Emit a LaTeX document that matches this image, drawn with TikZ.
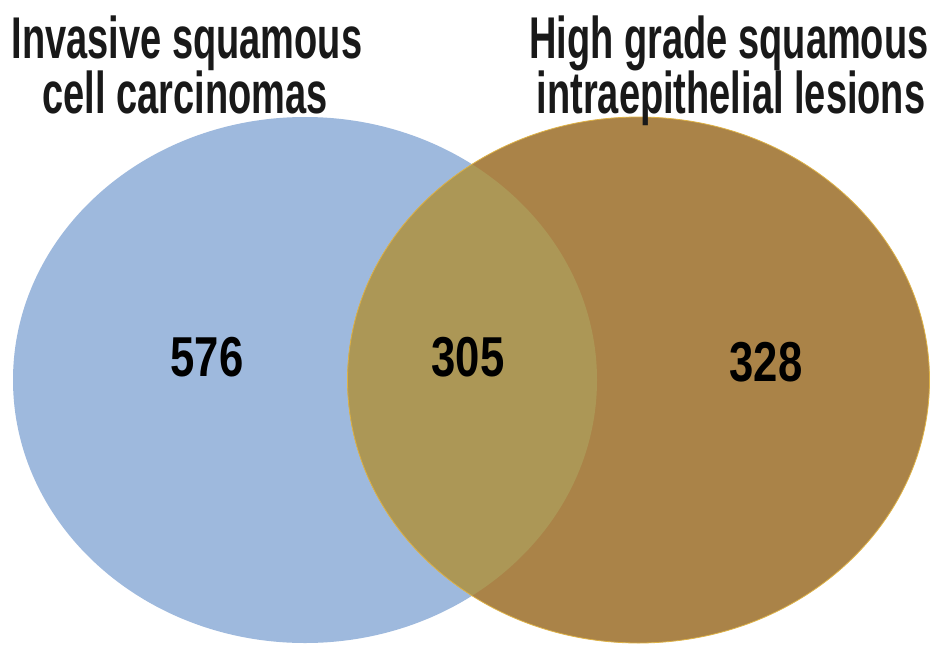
\documentclass[tikz,border=0pt]{standalone}
\usepackage{fontspec}
\setmainfont{Liberation Sans}
\definecolor{setA}{RGB}{158,185,221}
\definecolor{setB}{RGB}{170,131,72}
\definecolor{setAB}{RGB}{172,151,86}
\definecolor{edgeB}{RGB}{222,178,70}
\newcommand{\tallA}[1]{\scalebox{1}[1.55]{#1}}
\newcommand{\tallN}[1]{\scalebox{0.97}[1.25]{#1}}
\tikzset{
  titletext/.style={inner sep=0pt, anchor=base, font=\fontsize{38}{40}\selectfont\bfseries, text=black!90},
  numtext/.style={inner sep=0pt, anchor=base, font=\fontsize{45}{48}\selectfont\bfseries, text=black}
}
\begin{document}
\begin{tikzpicture}[x=1pt,y=-1pt]
\useasboundingbox (0,0) rectangle (945,659);
\fill[white] (0,0) rectangle (945,659);
\coordinate (cA) at (305,380);
\coordinate (cB) at (638.5,380);
\fill[setA] (cA) ellipse [x radius=292, y radius=263];
\fill[setB] (cB) ellipse [x radius=291, y radius=263];
\begin{scope}
  \clip (cA) ellipse [x radius=292, y radius=263];
  \fill[setAB] (cB) ellipse [x radius=291, y radius=263];
\end{scope}
\draw[edgeB, line width=0.8pt] (cB) ellipse [x radius=291, y radius=263];
\node[titletext] (tA1) at (187,58) {\tallA{Invasive squamous}};
\node[titletext] (tA2) at (185,113) {\tallA{cell carcinomas}};
\node[titletext] (tB1) at (729,58) {\tallA{High grade squamous}};
\node[titletext] (tB2) at (731,113) {\tallA{intraepithelial lesions}};
\node[numtext] (nA) at (207,376) {\tallN{576}};
\node[numtext] (nAB) at (468,376) {\tallN{305}};
\node[numtext] (nB) at (766,381) {\tallN{328}};
\end{tikzpicture}
\end{document}
